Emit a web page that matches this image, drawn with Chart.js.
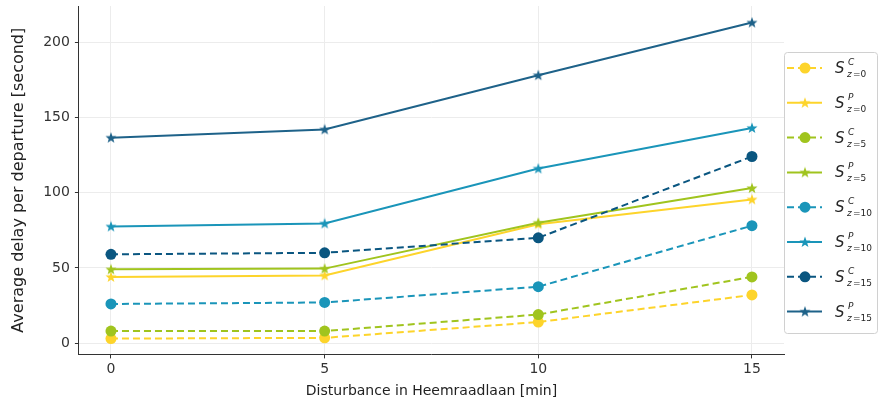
<!doctype html>
<html lang="en">
<head>
<meta charset="UTF-8">
<title>Average delay per departure</title>
<script src="https://cdn.jsdelivr.net/npm/chart.js"></script>
<style>
  body { margin: 0; background: #fff; }
  #wrap { position: relative; width: 880px; height: 409px; }
</style>
</head>
<body>
<div id="wrap"><canvas id="chart"></canvas></div>
<script>
// disturbance (minutes)
const disturbance = [0, 5, 10, 15];
const xTicks = [0, 5, 10, 15];
const yTicks = [0, 50, 100, 150, 200];

// average delay per departure [s]
const sC0  = [3, 3.5, 14, 32];
const sP0  = [44, 45, 79, 95.5];
const sC5  = [8, 8, 19, 44];
const sP5  = [49, 49.5, 80, 103];
const sC10 = [26, 27, 37.5, 78];
const sP10 = [77.5, 79.5, 116, 143];
const sC15 = [59, 60, 70, 124];
const sP15 = [136.5, 142, 178, 213];

const kinds = ['C', 'P', 'C', 'P', 'C', 'P', 'C', 'P'];
const zs = ['0', '0', '5', '5', '10', '10', '15', '15'];
const values = [sC0, sP0, sC5, sP5, sC10, sP10, sC15, sP15];
const colors = ['#fdd42b', '#fdd42b', '#a0c41e', '#a0c41e', '#1a95b9', '#1a95b9', '#0a5680', '#1e6289'];

const font = '"DejaVu Sans", sans-serif';

function makeStar(color) {
  const c = document.createElement('canvas');
  c.width = 12; c.height = 12;
  const g = c.getContext('2d');
  g.fillStyle = color;
  g.beginPath();
  for (let i = 0; i < 10; i++) {
    const r = i % 2 === 0 ? 5.8 : 2.4;
    const a = -Math.PI / 2 + i * Math.PI / 5;
    const px = 6 + r * Math.cos(a), py = 6.4 + r * Math.sin(a);
    i === 0 ? g.moveTo(px, py) : g.lineTo(px, py);
  }
  g.closePath();
  g.fill();
  return c;
}

const datasets = values.map((vals, i) => {
  const isC = kinds[i] === 'C';
  return {
    label: 'S' + kinds[i] + ' z=' + zs[i],
    data: disturbance.map((x, j) => ({ x: x, y: vals[j] })),
    borderColor: colors[i],
    backgroundColor: colors[i],
    borderWidth: 2,
    borderDash: isC ? [7, 4] : [],
    pointStyle: isC ? 'circle' : makeStar(colors[i]),
    pointRadius: isC ? 5.5 : 6,
    pointBorderWidth: 0,
    fill: false,
    tension: 0,
    order: 7 - i
  };
});

// legend with sub/superscripts, drawn on the canvas
const mathLegend = {
  id: 'mathLegend',
  afterDraw(chart) {
    const ctx = chart.ctx;
    const left = 784, top = 52, w = 93, h = 281;
    ctx.save();
    ctx.fillStyle = 'rgba(255,255,255,0.85)';
    ctx.strokeStyle = '#d0d0d0';
    ctx.lineWidth = 1;
    ctx.beginPath();
    ctx.roundRect(left + 0.5, top + 0.5, w, h, 3);
    ctx.fill();
    ctx.stroke();
    chart.data.datasets.forEach((ds, i) => {
      const y = 68 + i * 34.8;
      ctx.strokeStyle = ds.borderColor;
      ctx.lineWidth = 2;
      ctx.setLineDash(ds.borderDash);
      ctx.beginPath();
      ctx.moveTo(787, y);
      ctx.lineTo(822, y);
      ctx.stroke();
      ctx.setLineDash([]);
      if (kinds[i] === 'C') {
        ctx.fillStyle = ds.backgroundColor;
        ctx.beginPath();
        ctx.arc(805, y, 5.5, 0, Math.PI * 2);
        ctx.fill();
      } else {
        ctx.drawImage(ds.pointStyle, 799, y - 6);
      }
      ctx.fillStyle = '#262626';
      ctx.textBaseline = 'alphabetic';
      ctx.font = 'italic 15px ' + font;
      ctx.fillText('S', 835, y + 5);
      ctx.font = 'italic 9px ' + font;
      ctx.fillText(kinds[i], 848, y - 3);
      ctx.fillText('z', 847, y + 9);
      ctx.font = '9px ' + font;
      ctx.fillText('=' + zs[i], 853, y + 9);
    });
    ctx.restore();
  }
};

new Chart(document.getElementById('chart'), {
  type: 'line',
  data: { datasets: datasets },
  options: {
    responsive: true,
    maintainAspectRatio: false,
    animation: false,
    layout: { padding: { left: 9, right: 96, top: 5, bottom: 9 } },
    plugins: { legend: { display: false }, tooltip: { enabled: false } },
    scales: {
      x: {
        type: 'linear',
        min: -0.75,
        max: 15.75,
        afterBuildTicks: s => { s.ticks = xTicks.map(v => ({ value: v })); },
        grid: { color: '#ececec', tickColor: '#333', tickLength: 4 },
        border: { color: '#333', width: 1 },
        ticks: { color: '#333', font: { family: font, size: 14 }, padding: 3, maxRotation: 0 },
        title: { display: true, text: 'Disturbance in Heemraadlaan [min]', color: '#222',
                 font: { family: font, size: 14 }, padding: { top: 2, bottom: 0 } }
      },
      y: {
        min: -7.5,
        max: 224,
        afterBuildTicks: s => { s.ticks = yTicks.map(v => ({ value: v })); },
        afterFit: s => { s.paddingTop = 0; },
        grid: { color: '#ececec', tickColor: '#333', tickLength: 4 },
        border: { color: '#333', width: 1 },
        ticks: { color: '#333', font: { family: font, size: 14 }, padding: 5 },
        title: { display: true, text: 'Average delay per departure [second]', color: '#222',
                 font: { family: font, size: 16 }, padding: { top: 0, bottom: 10 } }
      }
    }
  },
  plugins: [mathLegend]
});
</script>
</body>
</html>
